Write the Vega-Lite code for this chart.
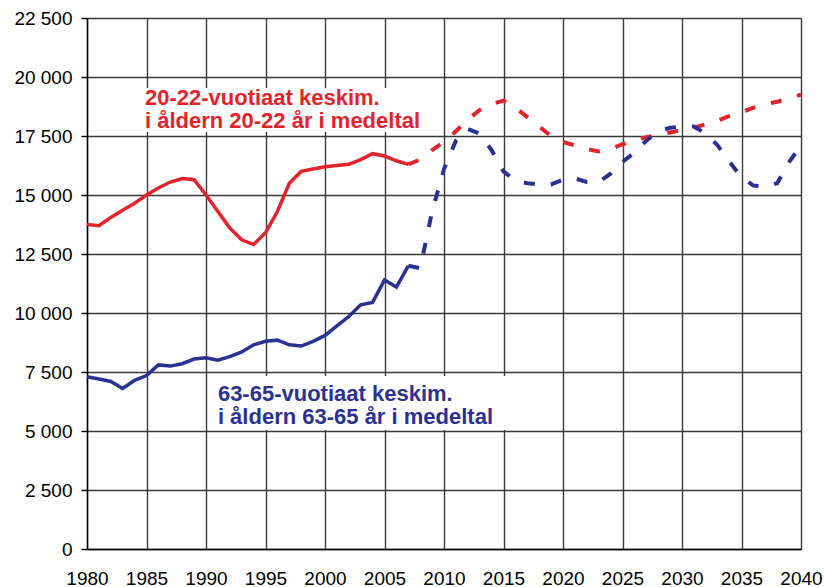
{
  "$schema": "https://vega.github.io/schema/vega-lite/v6.json",
  "width": 714,
  "height": 531,
  "autosize": {"type": "none"},
  "padding": {"left": 87, "top": 18, "right": 24, "bottom": 38},
  "background": "white",
  "config": {
    "view": {"stroke": null},
    "font": "Liberation Sans"
  },
  "datasets": {
    "lines": [
      {"year": 1980, "value": 13750, "series": "young", "part": "actual"},
      {"year": 1981, "value": 13700, "series": "young", "part": "actual"},
      {"year": 1982, "value": 14050, "series": "young", "part": "actual"},
      {"year": 1983, "value": 14350, "series": "young", "part": "actual"},
      {"year": 1984, "value": 14650, "series": "young", "part": "actual"},
      {"year": 1985, "value": 15000, "series": "young", "part": "actual"},
      {"year": 1986, "value": 15300, "series": "young", "part": "actual"},
      {"year": 1987, "value": 15550, "series": "young", "part": "actual"},
      {"year": 1988, "value": 15700, "series": "young", "part": "actual"},
      {"year": 1989, "value": 15650, "series": "young", "part": "actual"},
      {"year": 1990, "value": 15000, "series": "young", "part": "actual"},
      {"year": 1991, "value": 14300, "series": "young", "part": "actual"},
      {"year": 1992, "value": 13600, "series": "young", "part": "actual"},
      {"year": 1993, "value": 13100, "series": "young", "part": "actual"},
      {"year": 1994, "value": 12900, "series": "young", "part": "actual"},
      {"year": 1995, "value": 13400, "series": "young", "part": "actual"},
      {"year": 1996, "value": 14300, "series": "young", "part": "actual"},
      {"year": 1997, "value": 15500, "series": "young", "part": "actual"},
      {"year": 1998, "value": 16000, "series": "young", "part": "actual"},
      {"year": 1999, "value": 16100, "series": "young", "part": "actual"},
      {"year": 2000, "value": 16200, "series": "young", "part": "actual"},
      {"year": 2001, "value": 16250, "series": "young", "part": "actual"},
      {"year": 2002, "value": 16300, "series": "young", "part": "actual"},
      {"year": 2003, "value": 16500, "series": "young", "part": "actual"},
      {"year": 2004, "value": 16750, "series": "young", "part": "actual"},
      {"year": 2005, "value": 16650, "series": "young", "part": "actual"},
      {"year": 2006, "value": 16450, "series": "young", "part": "actual"},
      {"year": 2007, "value": 16300, "series": "young", "part": "actual"},
      {"year": 2007, "value": 16300, "series": "young", "part": "forecast"},
      {"year": 2008, "value": 16500, "series": "young", "part": "forecast"},
      {"year": 2009, "value": 16900, "series": "young", "part": "forecast"},
      {"year": 2010, "value": 17250, "series": "young", "part": "forecast"},
      {"year": 2011, "value": 17700, "series": "young", "part": "forecast"},
      {"year": 2012, "value": 18200, "series": "young", "part": "forecast"},
      {"year": 2013, "value": 18600, "series": "young", "part": "forecast"},
      {"year": 2014, "value": 18850, "series": "young", "part": "forecast"},
      {"year": 2015, "value": 19000, "series": "young", "part": "forecast"},
      {"year": 2016, "value": 18700, "series": "young", "part": "forecast"},
      {"year": 2017, "value": 18300, "series": "young", "part": "forecast"},
      {"year": 2018, "value": 17900, "series": "young", "part": "forecast"},
      {"year": 2019, "value": 17500, "series": "young", "part": "forecast"},
      {"year": 2020, "value": 17250, "series": "young", "part": "forecast"},
      {"year": 2021, "value": 17100, "series": "young", "part": "forecast"},
      {"year": 2022, "value": 16950, "series": "young", "part": "forecast"},
      {"year": 2023, "value": 16850, "series": "young", "part": "forecast"},
      {"year": 2024, "value": 16950, "series": "young", "part": "forecast"},
      {"year": 2025, "value": 17150, "series": "young", "part": "forecast"},
      {"year": 2026, "value": 17300, "series": "young", "part": "forecast"},
      {"year": 2027, "value": 17450, "series": "young", "part": "forecast"},
      {"year": 2028, "value": 17550, "series": "young", "part": "forecast"},
      {"year": 2029, "value": 17650, "series": "young", "part": "forecast"},
      {"year": 2030, "value": 17750, "series": "young", "part": "forecast"},
      {"year": 2031, "value": 17850, "series": "young", "part": "forecast"},
      {"year": 2032, "value": 18000, "series": "young", "part": "forecast"},
      {"year": 2033, "value": 18150, "series": "young", "part": "forecast"},
      {"year": 2034, "value": 18350, "series": "young", "part": "forecast"},
      {"year": 2035, "value": 18500, "series": "young", "part": "forecast"},
      {"year": 2036, "value": 18700, "series": "young", "part": "forecast"},
      {"year": 2037, "value": 18850, "series": "young", "part": "forecast"},
      {"year": 2038, "value": 18950, "series": "young", "part": "forecast"},
      {"year": 2039, "value": 19100, "series": "young", "part": "forecast"},
      {"year": 2040, "value": 19250, "series": "young", "part": "forecast"},
      {"year": 1980, "value": 7300, "series": "old", "part": "actual"},
      {"year": 1981, "value": 7200, "series": "old", "part": "actual"},
      {"year": 1982, "value": 7100, "series": "old", "part": "actual"},
      {"year": 1983, "value": 6800, "series": "old", "part": "actual"},
      {"year": 1984, "value": 7150, "series": "old", "part": "actual"},
      {"year": 1985, "value": 7350, "series": "old", "part": "actual"},
      {"year": 1986, "value": 7800, "series": "old", "part": "actual"},
      {"year": 1987, "value": 7750, "series": "old", "part": "actual"},
      {"year": 1988, "value": 7850, "series": "old", "part": "actual"},
      {"year": 1989, "value": 8050, "series": "old", "part": "actual"},
      {"year": 1990, "value": 8100, "series": "old", "part": "actual"},
      {"year": 1991, "value": 8000, "series": "old", "part": "actual"},
      {"year": 1992, "value": 8150, "series": "old", "part": "actual"},
      {"year": 1993, "value": 8350, "series": "old", "part": "actual"},
      {"year": 1994, "value": 8650, "series": "old", "part": "actual"},
      {"year": 1995, "value": 8800, "series": "old", "part": "actual"},
      {"year": 1996, "value": 8850, "series": "old", "part": "actual"},
      {"year": 1997, "value": 8650, "series": "old", "part": "actual"},
      {"year": 1998, "value": 8600, "series": "old", "part": "actual"},
      {"year": 1999, "value": 8800, "series": "old", "part": "actual"},
      {"year": 2000, "value": 9050, "series": "old", "part": "actual"},
      {"year": 2001, "value": 9450, "series": "old", "part": "actual"},
      {"year": 2002, "value": 9850, "series": "old", "part": "actual"},
      {"year": 2003, "value": 10350, "series": "old", "part": "actual"},
      {"year": 2004, "value": 10450, "series": "old", "part": "actual"},
      {"year": 2005, "value": 11400, "series": "old", "part": "actual"},
      {"year": 2006, "value": 11100, "series": "old", "part": "actual"},
      {"year": 2007, "value": 12000, "series": "old", "part": "actual"},
      {"year": 2007, "value": 12000, "series": "old", "part": "forecast"},
      {"year": 2008, "value": 11900, "series": "old", "part": "forecast"},
      {"year": 2009, "value": 14300, "series": "old", "part": "forecast"},
      {"year": 2010, "value": 16100, "series": "old", "part": "forecast"},
      {"year": 2011, "value": 17300, "series": "old", "part": "forecast"},
      {"year": 2012, "value": 17800, "series": "old", "part": "forecast"},
      {"year": 2013, "value": 17600, "series": "old", "part": "forecast"},
      {"year": 2014, "value": 16900, "series": "old", "part": "forecast"},
      {"year": 2015, "value": 16000, "series": "old", "part": "forecast"},
      {"year": 2016, "value": 15600, "series": "old", "part": "forecast"},
      {"year": 2017, "value": 15500, "series": "old", "part": "forecast"},
      {"year": 2018, "value": 15450, "series": "old", "part": "forecast"},
      {"year": 2019, "value": 15450, "series": "old", "part": "forecast"},
      {"year": 2020, "value": 15650, "series": "old", "part": "forecast"},
      {"year": 2021, "value": 15700, "series": "old", "part": "forecast"},
      {"year": 2022, "value": 15550, "series": "old", "part": "forecast"},
      {"year": 2023, "value": 15550, "series": "old", "part": "forecast"},
      {"year": 2024, "value": 15900, "series": "old", "part": "forecast"},
      {"year": 2025, "value": 16400, "series": "old", "part": "forecast"},
      {"year": 2026, "value": 16800, "series": "old", "part": "forecast"},
      {"year": 2027, "value": 17300, "series": "old", "part": "forecast"},
      {"year": 2028, "value": 17700, "series": "old", "part": "forecast"},
      {"year": 2029, "value": 17850, "series": "old", "part": "forecast"},
      {"year": 2030, "value": 17900, "series": "old", "part": "forecast"},
      {"year": 2031, "value": 17900, "series": "old", "part": "forecast"},
      {"year": 2032, "value": 17600, "series": "old", "part": "forecast"},
      {"year": 2033, "value": 17100, "series": "old", "part": "forecast"},
      {"year": 2034, "value": 16400, "series": "old", "part": "forecast"},
      {"year": 2035, "value": 15750, "series": "old", "part": "forecast"},
      {"year": 2036, "value": 15400, "series": "old", "part": "forecast"},
      {"year": 2037, "value": 15350, "series": "old", "part": "forecast"},
      {"year": 2038, "value": 15500, "series": "old", "part": "forecast"},
      {"year": 2039, "value": 16400, "series": "old", "part": "forecast"},
      {"year": 2040, "value": 17100, "series": "old", "part": "forecast"}
    ],
    "boxes": [
      {"x1": 1984.3, "x2": 2009.6, "y1": 17670, "y2": 19530},
      {"x1": 1990.3, "x2": 2015.5, "y1": 5040, "y2": 7330}
    ],
    "labels": [
      {"x": 1984.87, "y": 18830, "text": ["20-22-vuotiaat keskim.", "i åldern 20-22 år i medeltal"], "series": "young"},
      {"x": 1991.0, "y": 6290, "text": ["63-65-vuotiaat keskim.", "i åldern 63-65 år i medeltal"], "series": "old"}
    ]
  },
  "layer": [
    {
      "data": {"name": "boxes"},
      "mark": {"type": "rect", "fill": "white", "stroke": null},
      "encoding": {
        "x": {"field": "x1", "type": "quantitative", "scale": {"domain": [1980, 2040], "nice": false, "zero": false},
          "axis": {"values": [1980, 1985, 1990, 1995, 2000, 2005, 2010, 2015, 2020, 2025, 2030, 2035, 2040],
            "format": "d", "title": null, "grid": true, "gridColor": "#3a3a3a", "gridWidth": 1.4, "gridOpacity": 1,
            "domainColor": "#000000", "domainWidth": 1.4, "ticks": false, "labelPadding": 20,
            "labelFont": "Liberation Sans", "labelFontSize": 19, "labelColor": "#000000", "labelFlush": false}},
        "x2": {"field": "x2"},
        "y": {"field": "y1", "type": "quantitative", "scale": {"domain": [0, 22500], "nice": false},
          "axis": {"values": [0, 2500, 5000, 7500, 10000, 12500, 15000, 17500, 20000, 22500],
            "labelExpr": "replace(format(datum.value, ','), ',', ' ')", "title": null,
            "grid": true, "gridColor": "#3a3a3a", "gridWidth": 1.4, "gridOpacity": 1,
            "domainColor": "#000000", "domainWidth": 1.4, "tickColor": "#000000", "tickSize": 6, "tickWidth": 1.4,
            "labelPadding": 9, "labelFont": "Liberation Sans", "labelFontSize": 19, "labelColor": "#000000"}},
        "y2": {"field": "y2"}
      }
    },
    {
      "data": {"name": "lines"},
      "transform": [{"filter": "datum.part === 'actual'"}],
      "mark": {"type": "line", "strokeWidth": 3.5, "strokeCap": "butt", "strokeJoin": "miter"},
      "encoding": {
        "x": {"field": "year", "type": "quantitative"},
        "y": {"field": "value", "type": "quantitative"},
        "detail": {"field": "series"},
        "color": {"field": "series", "type": "nominal", "scale": {"domain": ["young", "old"], "range": ["#e2232b", "#2b3190"]}, "legend": null}
      }
    },
    {
      "data": {"name": "lines"},
      "transform": [{"filter": "datum.part === 'forecast'"}],
      "mark": {"type": "line", "strokeWidth": 4, "strokeCap": "butt", "strokeDash": [11, 16]},
      "encoding": {
        "x": {"field": "year", "type": "quantitative"},
        "y": {"field": "value", "type": "quantitative"},
        "detail": {"field": "series"},
        "color": {"field": "series", "type": "nominal", "legend": null}
      }
    },
    {
      "data": {"name": "labels"},
      "mark": {"type": "text", "align": "left", "baseline": "alphabetic", "font": "Liberation Sans", "fontWeight": "bold", "fontSize": 22, "lineHeight": 23},
      "encoding": {
        "x": {"field": "x", "type": "quantitative"},
        "y": {"field": "y", "type": "quantitative"},
        "text": {"field": "text"},
        "color": {"field": "series", "type": "nominal", "legend": null}
      }
    }
  ]
}
